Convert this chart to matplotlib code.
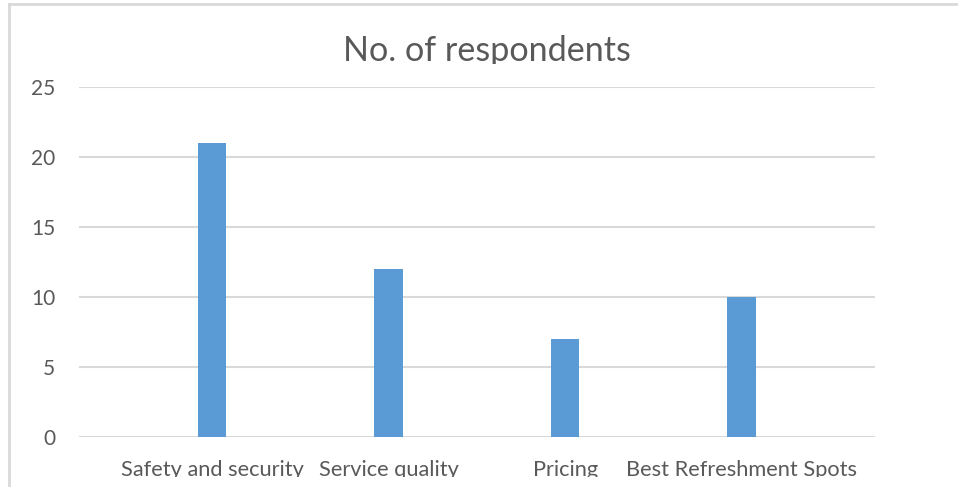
import matplotlib.pyplot as plt
from matplotlib.patches import Rectangle
from matplotlib.lines import Line2D
import numpy as np

categories = ['Safety and security', 'Service quality', 'Pricing', 'Best Refreshment Spots']
respondents = [21, 12, 7, 10]
yticks = [0, 5, 10, 15, 20, 25]

plt.rcParams['font.family'] = ['Lato', 'DejaVu Sans']

fig = plt.figure(figsize=(9.58, 4.87), dpi=100)
ax = fig.add_axes([79/958, 50/487, 796/958, 350/487])

x = np.arange(len(categories))
ax.bar(x, respondents, width=0.16, color='#5b9bd5', zorder=3)

ax.set_ylim(0, 25)
ax.set_xlim(-0.754, 3.756)
ax.set_yticks(yticks)
ax.set_yticklabels([str(t) for t in yticks], fontsize=15, color='#595959')
ax.set_xticks(x)
ax.set_xticklabels(categories, fontsize=15.7, color='#595959')
ax.tick_params(axis='both', length=0)
ax.tick_params(axis='y', pad=17)
ax.tick_params(axis='x', pad=16.5)
ax.grid(axis='y', color='#d9d9d9', linewidth=1.5, zorder=0)
for s in ax.spines.values():
    s.set_visible(False)

fig.text(487/958, 1 - 61/487, 'No. of respondents', ha='center', va='baseline',
         fontsize=24.6, color='#595959')

# chart area border, cut off on the right and bottom
fig.add_artist(Line2D([9/958, 9/958], [0, 1 - 4/487], color='#d9d9d9', linewidth=2))
fig.add_artist(Line2D([9/958, 1], [1 - 4/487, 1 - 4/487], color='#d9d9d9', linewidth=2))
# white strips over the clipped text
fig.add_artist(Rectangle((11/958, 0), 1, 10/487, transform=fig.transFigure,
                         facecolor='white', edgecolor='none', zorder=10))
fig.add_artist(Rectangle((330/958, 1 - 76/487), 320/958, 12/487, transform=fig.transFigure,
                         facecolor='white', edgecolor='none', zorder=10))

fig.savefig('out.png', dpi=100)
